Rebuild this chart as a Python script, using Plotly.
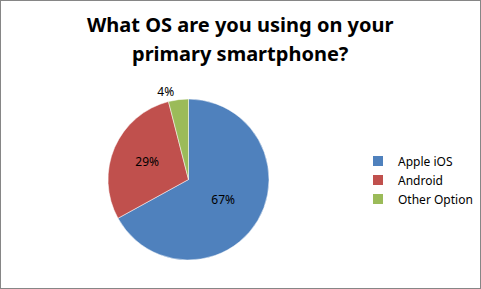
import plotly.graph_objects as go

labels = ["Apple iOS", "Android", "Other Option"]
values = [67, 29, 4]
colors = ["#4F81BD", "#C0504D", "#9BBB59"]
text_positions = ["inside", "inside", "outside"]
title_lines = ["What OS are you using on your", "primary smartphone?"]

W, H = 481, 289

fig = go.Figure(go.Pie(
    labels=labels,
    values=values,
    sort=False,
    direction="clockwise",
    rotation=0,
    marker=dict(colors=colors, line=dict(color="white", width=0.5)),
    texttemplate="%{value}%",
    textposition=text_positions,
    insidetextorientation="horizontal",
    textfont=dict(family="Noto Sans, sans-serif", size=12, color="black"),
    domain=dict(x=[108 / W, 269 / W], y=[1 - 260 / H, 1 - 99 / H]),
    showlegend=True,
    hoverinfo="label+percent",
))

annotations = []
for i, line in enumerate(title_lines):
    annotations.append(dict(
        text=line, xref="paper", yref="paper", x=0.5, y=1 - (25 + 29 * i) / H,
        xanchor="center", yanchor="middle", showarrow=False,
        font=dict(family="Noto Sans, sans-serif", size=20, color="black", weight="bold")))

fig.update_layout(
    width=W, height=H,
    margin=dict(l=0, r=0, t=0, b=0, autoexpand=False),
    paper_bgcolor="white",
    plot_bgcolor="white",
    annotations=annotations,
    legend=dict(x=358 / W, y=1 - 180 / H, xanchor="left", yanchor="middle",
                font=dict(family="Noto Sans, sans-serif", size=12, color="black"),
                itemsizing="constant"),
    shapes=[dict(type="rect", xref="paper", yref="paper", x0=0, y0=0, x1=1, y1=1,
                 line=dict(color="#868686", width=2))],
)

fig.write_html("out.html")
